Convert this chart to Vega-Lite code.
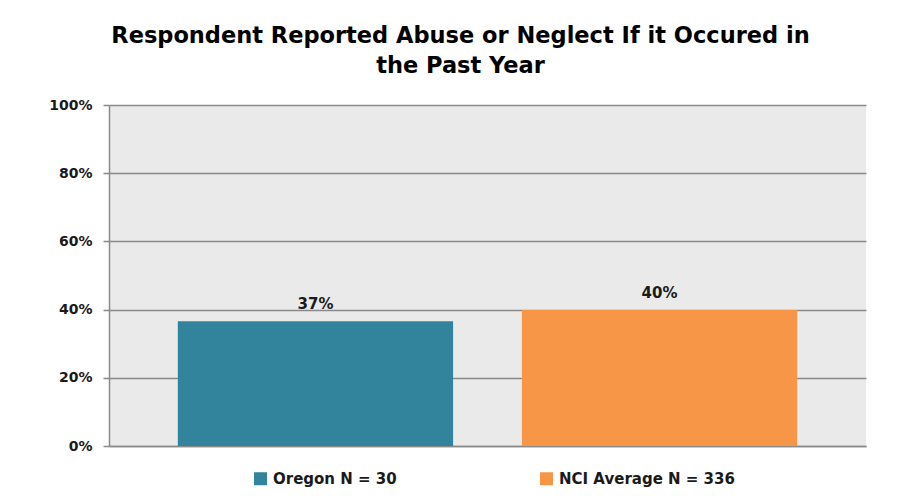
{
  "$schema": "https://vega.github.io/schema/vega-lite/v6.json",
  "width": 757,
  "height": 341,
  "autosize": {"type": "none"},
  "padding": {"left": 109, "top": 105, "right": 39, "bottom": 55},
  "background": "white",
  "title": {
    "text": ["Respondent Reported Abuse or Neglect If it Occured in", "the Past Year"],
    "font": "DejaVu Sans",
    "fontSize": 22.5,
    "fontWeight": "bold",
    "color": "#000000",
    "anchor": "middle",
    "dx": -27,
    "offset": 20,
    "lineHeight": 30.6
  },
  "data": {
    "values": [
      {"group": "Oregon N = 30", "value": 0.366},
      {"group": "NCI Average N = 336", "value": 0.399}
    ]
  },
  "encoding": {
    "x": {
      "field": "group",
      "type": "nominal",
      "sort": null,
      "scale": {"paddingInner": 0.2, "paddingOuter": 0.2},
      "axis": {"labels": false, "ticks": false, "title": null, "domainColor": "#8a8a8a", "domainWidth": 1.5}
    },
    "y": {
      "field": "value",
      "type": "quantitative",
      "scale": {"domain": [0, 1], "nice": false},
      "axis": {
        "title": null,
        "format": ".0%",
        "values": [0, 0.2, 0.4, 0.6, 0.8, 1],
        "domainColor": "#8a8a8a",
        "domainWidth": 1.5,
        "gridColor": "#8a8a8a",
        "gridWidth": 1.5,
        "tickColor": "#8a8a8a",
        "tickWidth": 1.5,
        "tickSize": 6,
        "labelFont": "DejaVu Sans",
        "labelFontWeight": "bold",
        "labelFontSize": 14,
        "labelColor": "#1a1a1a",
        "labelPadding": 11
      }
    }
  },
  "layer": [
    {
      "mark": {"type": "bar"},
      "encoding": {
        "color": {
          "field": "group",
          "type": "nominal",
          "sort": null,
          "scale": {"range": ["#31849B", "#F79646"]},
          "legend": {
            "orient": "none",
            "legendX": 144,
            "legendY": 366,
            "direction": "horizontal",
            "title": null,
            "symbolType": "square",
            "symbolSize": 169,
            "symbolStrokeWidth": 0,
            "symbolOpacity": 1,
            "labelFont": "DejaVu Sans",
            "labelFontWeight": "bold",
            "labelFontSize": 15,
            "labelColor": "#1a1a1a",
            "labelOffset": 5,
            "columnPadding": 142,
            "labelLimit": 300
          }
        }
      }
    },
    {
      "mark": {
        "type": "text",
        "dy": -12,
        "baseline": "alphabetic",
        "font": "DejaVu Sans",
        "fontWeight": "bold",
        "fontSize": 15,
        "color": "#1a1a1a"
      },
      "encoding": {
        "text": {"field": "value", "type": "quantitative", "format": ".0%"}
      }
    }
  ],
  "config": {
    "view": {"fill": "#EAEAEA", "stroke": null}
  }
}
